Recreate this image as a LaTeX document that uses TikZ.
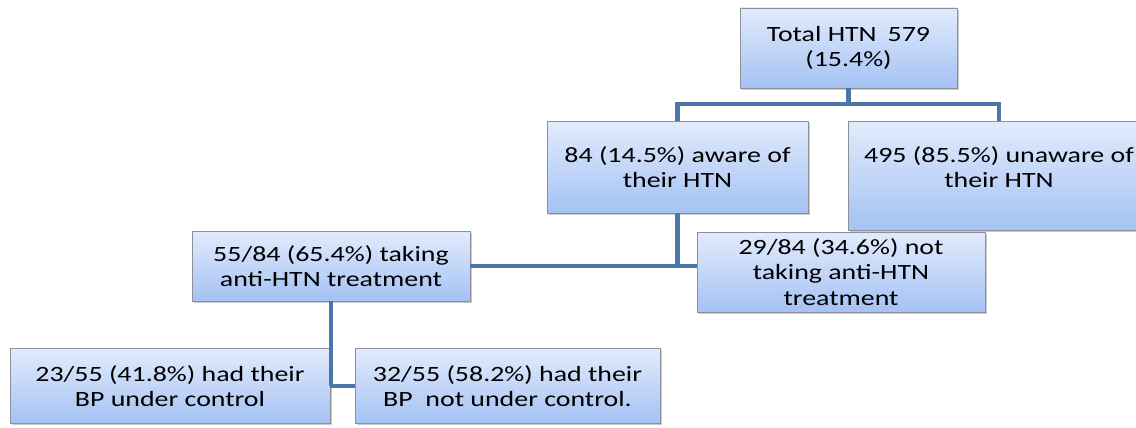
\documentclass[tikz,border=0pt]{standalone}
\usepackage{fontspec}
\setmainfont{Carlito}[FakeStretch=1.28]
\usetikzlibrary{shadows}

\definecolor{boxtop}{HTML}{E2EBFC}
\definecolor{boxbot}{HTML}{A4C2F4}
\definecolor{boxrim}{HTML}{8C9099}
\definecolor{linkblue}{HTML}{4A76A8}
\newlength\pxu
\setlength\pxu{0.025cm}

\tikzset{
  box/.style={draw=boxrim, top color=boxtop, bottom color=boxbot, align=center,
    inner sep=0pt, font=\fontsize{15.5}{18}\selectfont,
    drop shadow={shadow xshift=1.2pt, shadow yshift=-1.2pt, opacity=0.35, fill=black!60}},
  link/.style={draw=linkblue, line width=3pt}
}

\begin{document}
\begin{tikzpicture}[x=0.025cm,y=-0.025cm]
  \useasboundingbox (0,0) rectangle (1136,427);
  % boxes
  \node[box, minimum width=217\pxu, minimum height=80\pxu] (total) at (848.5,48) {Total HTN\enspace 579\\(15.4\%)};
  \node[box, minimum width=261\pxu, minimum height=92\pxu] (aware) at (677.5,167) {84 (14.5\%) aware of\\their HTN};
  \node[box, minimum width=302\pxu, minimum height=109\pxu] (unaware) at (999,175.5) {495 (85.5\%) unaware of\\their HTN\\[-6pt]};
  \node[box, minimum width=278\pxu, minimum height=70\pxu] (taking) at (331,266) {55/84 (65.4\%) taking\\anti-HTN treatment};
  \node[box, minimum width=288\pxu, minimum height=80\pxu] (nottaking) at (841,272) {29/84 (34.6\%) not\\taking anti-HTN\\treatment};
  \node[box, minimum width=320\pxu, minimum height=75\pxu] (control) at (170,386) {23/55 (41.8\%) had their\\BP under control};
  \node[box, minimum width=305\pxu, minimum height=75\pxu] (nocontrol) at (507.5,386) {32/55 (58.2\%) had their\\BP\ \ not under control.};
  % connectors
  \draw[link] (total.south) -- ++(0,16);
  \draw[link] (aware.north) -- ++(0,-17) -| (unaware.north);
  \draw[link] (aware.south) |- (taking.east);
  \draw[link] (taking.east) -- (taking.east -| nottaking.west);
  \draw[link] (taking.south) |- (control.east);
  \draw[link] (control.east) -- (nocontrol.west);
\end{tikzpicture}
\end{document}
